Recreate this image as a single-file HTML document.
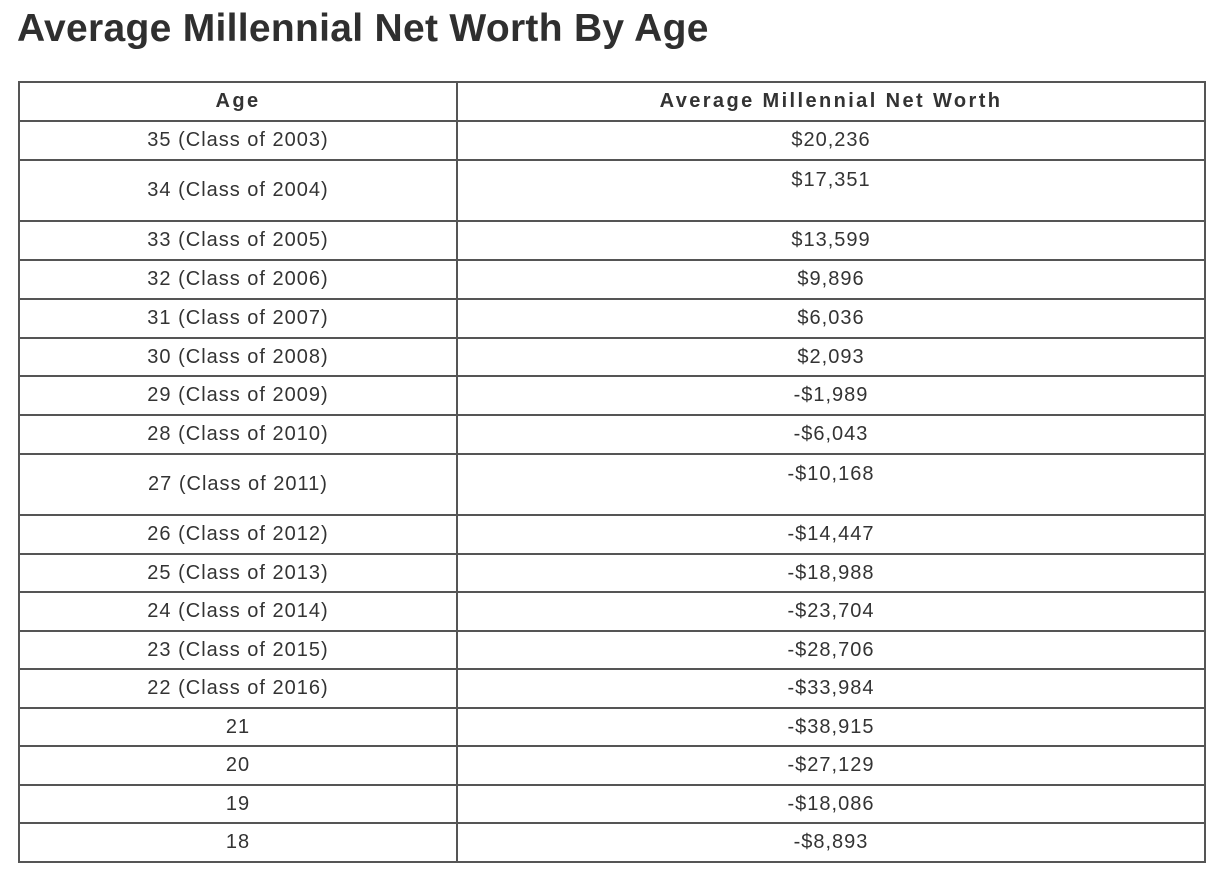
<!DOCTYPE html>
<html><head><meta charset="utf-8"><style>
body{margin:0;width:1224px;height:886px;background:#fff;position:relative;overflow:hidden;font-family:"Liberation Sans",sans-serif;color:#333}
h1{position:absolute;left:17px;top:7px;margin:0;font-size:39px;line-height:1.15;font-weight:bold;letter-spacing:0.3px;color:#2f2f2f}
table{position:absolute;left:18px;top:81px;border-collapse:collapse;width:1188px}
td{border:2px solid #555;text-align:center;font-size:20px;letter-spacing:1px;padding:0;color:#333}
td.a{width:436px}
th{border:2px solid #555;font-size:20px;letter-spacing:2.4px;font-weight:bold;color:#333}
td.t{vertical-align:top;padding-top:8px}
</style></head><body>
<h1>Average Millennial Net Worth By Age</h1>
<table>
<tr style="height:39px"><th>Age</th><th>Average Millennial Net Worth</th></tr>
<tr style="height:39px"><td class="a">35 (Class of 2003)</td><td>$20,236</td></tr>
<tr style="height:61px"><td class="a">34 (Class of 2004)</td><td class="t">$17,351</td></tr>
<tr style="height:39px"><td class="a">33 (Class of 2005)</td><td>$13,599</td></tr>
<tr style="height:39px"><td class="a">32 (Class of 2006)</td><td>$9,896</td></tr>
<tr style="height:39px"><td class="a">31 (Class of 2007)</td><td>$6,036</td></tr>
<tr style="height:38px"><td class="a">30 (Class of 2008)</td><td>$2,093</td></tr>
<tr style="height:39px"><td class="a">29 (Class of 2009)</td><td>-$1,989</td></tr>
<tr style="height:39px"><td class="a">28 (Class of 2010)</td><td>-$6,043</td></tr>
<tr style="height:61px"><td class="a">27 (Class of 2011)</td><td class="t">-$10,168</td></tr>
<tr style="height:39px"><td class="a">26 (Class of 2012)</td><td>-$14,447</td></tr>
<tr style="height:38px"><td class="a">25 (Class of 2013)</td><td>-$18,988</td></tr>
<tr style="height:39px"><td class="a">24 (Class of 2014)</td><td>-$23,704</td></tr>
<tr style="height:38px"><td class="a">23 (Class of 2015)</td><td>-$28,706</td></tr>
<tr style="height:39px"><td class="a">22 (Class of 2016)</td><td>-$33,984</td></tr>
<tr style="height:38px"><td class="a">21</td><td>-$38,915</td></tr>
<tr style="height:39px"><td class="a">20</td><td>-$27,129</td></tr>
<tr style="height:38px"><td class="a">19</td><td>-$18,086</td></tr>
<tr style="height:39px"><td class="a">18</td><td>-$8,893</td></tr>
</table>
</body></html>
